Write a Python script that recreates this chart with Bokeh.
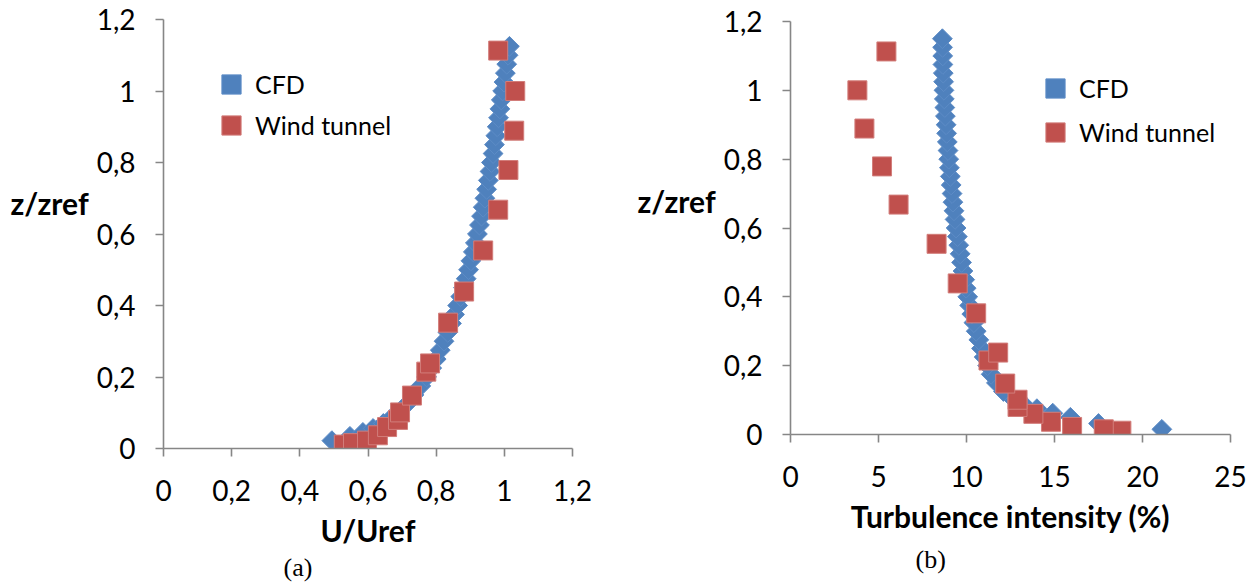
import numpy as np
from bokeh.plotting import figure
from bokeh.layouts import row, column
from bokeh.models import Range1d, FixedTicker, Legend, LegendItem, Title
from bokeh.embed import file_html
from bokeh.resources import INLINE

# ---------------- data ----------------
# (a) mean velocity profile
cfd_u_z = [0.022, 0.034, 0.045, 0.056, 0.07, 0.085, 0.10, 0.125, 0.15, 0.175,
           0.20, 0.225, 0.25, 0.275, 0.30, 0.325, 0.35, 0.375, 0.40, 0.425,
           0.45, 0.475, 0.50, 0.525, 0.55, 0.575, 0.60, 0.625, 0.65, 0.675,
           0.70, 0.725, 0.75, 0.775, 0.80, 0.825, 0.85, 0.875, 0.90, 0.925,
           0.95, 0.975, 1.00, 1.025, 1.05, 1.075, 1.10, 1.125]
cfd_u = [0.494, 0.547, 0.585, 0.615, 0.645, 0.668, 0.690, 0.715, 0.735, 0.755,
         0.772, 0.787, 0.800, 0.812, 0.823, 0.834, 0.845, 0.854, 0.863, 0.872,
         0.880, 0.888, 0.895, 0.902, 0.909, 0.915, 0.921, 0.927, 0.933, 0.938,
         0.943, 0.948, 0.953, 0.958, 0.962, 0.967, 0.971, 0.975, 0.979, 0.983,
         0.987, 0.991, 0.995, 0.999, 1.003, 1.007, 1.011, 1.015]

# wind tunnel measurement heights (shared by both panels)
wt_z = [0.011, 0.015, 0.022, 0.037, 0.060, 0.080, 0.101, 0.148, 0.215, 0.238,
        0.352, 0.439, 0.554, 0.668, 0.779, 0.889, 1.000, 1.113]
wt_u = [0.529, 0.556, 0.597, 0.629, 0.656, 0.688, 0.694, 0.729, 0.771, 0.782,
        0.835, 0.882, 0.938, 0.982, 1.012, 1.029, 1.032, 0.982]

# (b) turbulence intensity profile
cfd_ti_z = [0.015, 0.032, 0.050, 0.062, 0.075, 0.090, 0.105, 0.125, 0.15, 0.175,
            0.20, 0.225, 0.25, 0.275, 0.30, 0.325, 0.35, 0.375, 0.40, 0.425,
            0.45, 0.475, 0.50, 0.525, 0.55, 0.575, 0.60, 0.625, 0.65, 0.675,
            0.70, 0.725, 0.75, 0.775, 0.80, 0.825, 0.85, 0.875, 0.90, 0.925,
            0.95, 0.975, 1.00, 1.025, 1.05, 1.075, 1.10, 1.125, 1.15]
cfd_ti = [21.1, 17.5, 15.9, 14.9, 14.0, 13.2, 12.6, 12.1, 11.7, 11.4,
          11.2, 11.0, 10.85, 10.7, 10.55, 10.42, 10.3, 10.18, 10.07, 9.98,
          9.90, 9.80, 9.72, 9.64, 9.56, 9.48, 9.41, 9.35, 9.29, 9.23,
          9.18, 9.13, 9.08, 9.03, 8.99, 8.95, 8.91, 8.87, 8.84, 8.80,
          8.77, 8.74, 8.72, 8.70, 8.68, 8.66, 8.65, 8.64, 8.63]
wt_ti = [18.8, 17.8, 16.0, 14.8, 13.8, 12.9, 12.9, 12.2, 11.25, 11.8,
         10.55, 9.5, 8.3, 6.14, 5.2, 4.2, 3.8, 5.45]

z_ticks = [0, 0.2, 0.4, 0.6, 0.8, 1.0, 1.2]
z_tick_labels = ["0", "0,2", "0,4", "0,6", "0,8", "1", "1,2"]
u_ticks = [0, 0.2, 0.4, 0.6, 0.8, 1.0, 1.2]
u_tick_labels = ["0", "0,2", "0,4", "0,6", "0,8", "1", "1,2"]
ti_ticks = [0, 5, 10, 15, 20, 25]
ti_tick_labels = ["0", "5", "10", "15", "20", "25"]

series_names = ["CFD", "Wind tunnel"]

# ---------------- styling ----------------
FONT = "Lato"
BLUE, BLUE_EDGE = "#4f81bd", "#5d8cc6"
RED, RED_EDGE = "#c0504d", "#d27d7a"
AXIS_GREY = "#868686"
H = 588


def style_axes(p, xticks, xlabels, yticks, ylabels, xlabel, zlabel_lift):
    p.xaxis.ticker = FixedTicker(ticks=xticks)
    p.yaxis.ticker = FixedTicker(ticks=yticks)
    p.xaxis.major_label_overrides = dict(zip(xticks, xlabels))
    p.yaxis.major_label_overrides = dict(zip(yticks, ylabels))
    for ax in (p.xaxis[0], p.yaxis[0]):
        ax.axis_line_color = AXIS_GREY
        ax.axis_line_width = 1.6
        ax.major_tick_line_color = AXIS_GREY
        ax.major_tick_line_width = 1.6
        ax.major_tick_out = 8
        ax.major_tick_in = 0
        ax.minor_tick_line_color = None
        ax.major_label_text_font = FONT
        ax.major_label_text_font_size = "28px"
        ax.major_label_text_color = "black"
    p.yaxis.major_label_standoff = 20
    p.xaxis.major_label_standoff = 23
    p.xaxis.axis_label = xlabel
    p.xaxis.axis_label_text_font = FONT
    p.xaxis.axis_label_text_font_size = "30px"
    p.xaxis.axis_label_text_font_style = "bold"
    p.xaxis.axis_label_text_color = "black"
    p.xaxis.axis_label_standoff = 8
    # horizontal z label, lifted a little above the middle of the axis
    p.yaxis.axis_label = "z/zref\n "
    p.yaxis.axis_label_orientation = "horizontal"
    p.yaxis.axis_label_text_font = FONT
    p.yaxis.axis_label_text_font_size = "30px"
    p.yaxis.axis_label_text_font_style = "bold"
    p.yaxis.axis_label_text_color = "black"
    p.yaxis.axis_label_text_line_height = zlabel_lift
    p.yaxis.axis_label_standoff = 5
    p.xgrid.visible = False
    p.ygrid.visible = False
    p.outline_line_color = None


def add_legend(p, renderer, name, x, y):
    leg = Legend(items=[LegendItem(label=name, renderers=[renderer])],
                 location=(x, y), glyph_width=48, glyph_height=48,
                 label_standoff=0, spacing=0, padding=0, margin=0,
                 border_line_color=None, background_fill_alpha=0,
                 label_text_font=FONT, label_text_font_size="25px",
                 label_text_color="black")
    p.add_layout(leg)


def add_caption(p, text, offset, standoff):
    p.add_layout(Title(text=text, align="left", offset=offset, standoff=standoff,
                       text_font="Liberation Serif", text_font_size="26px",
                       text_font_style="normal", text_color="black"), "below")


# ---------------- panel (a) ----------------
pa = figure(width=620, height=H, output_backend="svg", toolbar_location=None,
            x_range=Range1d(0, 1.2), y_range=Range1d(0, 1.2),
            min_border_left=163, min_border_right=48,
            min_border_top=19, min_border_bottom=H - 448)
ra_cfd = pa.scatter(cfd_u, cfd_u_z, marker="square", angle=np.pi / 4, size=14,
                    fill_color=BLUE, line_color=BLUE_EDGE, line_width=1)
ra_wt = pa.scatter(wt_u, wt_z, marker="square", size=19,
                   fill_color=RED, line_color=RED_EDGE, line_width=1)
style_axes(pa, u_ticks, u_tick_labels, z_ticks, z_tick_labels, "U/Uref", 1.7)
add_legend(pa, ra_cfd, series_names[0], 44, 340)
add_legend(pa, ra_wt, series_names[1], 44, 299)
add_caption(pa, "(a)", 120, 0)

# ---------------- panel (b) ----------------
pb = figure(width=635, height=H, output_backend="svg", toolbar_location=None,
            x_range=Range1d(0, 25), y_range=Range1d(0, 1.2),
            min_border_left=170, min_border_right=25,
            min_border_top=21, min_border_bottom=H - 434)
rb_cfd = pb.scatter(cfd_ti, cfd_ti_z, marker="square", angle=np.pi / 4, size=14,
                    fill_color=BLUE, line_color=BLUE_EDGE, line_width=1)
rb_wt = pb.scatter(wt_ti, wt_z, marker="square", size=19,
                   fill_color=RED, line_color=RED_EDGE, line_width=1)
style_axes(pb, ti_ticks, ti_tick_labels, z_ticks, z_tick_labels,
           "Turbulence intensity (%)", 1.5)
add_legend(pb, rb_cfd, series_names[0], 241, 322)
add_legend(pb, rb_wt, series_names[1], 241, 278)
add_caption(pb, "(b)", 125, 12)

# each panel keeps its own frame geometry
layout = row(column(pa), column(pb))
open("out.html", "w").write(file_html(layout, INLINE))
